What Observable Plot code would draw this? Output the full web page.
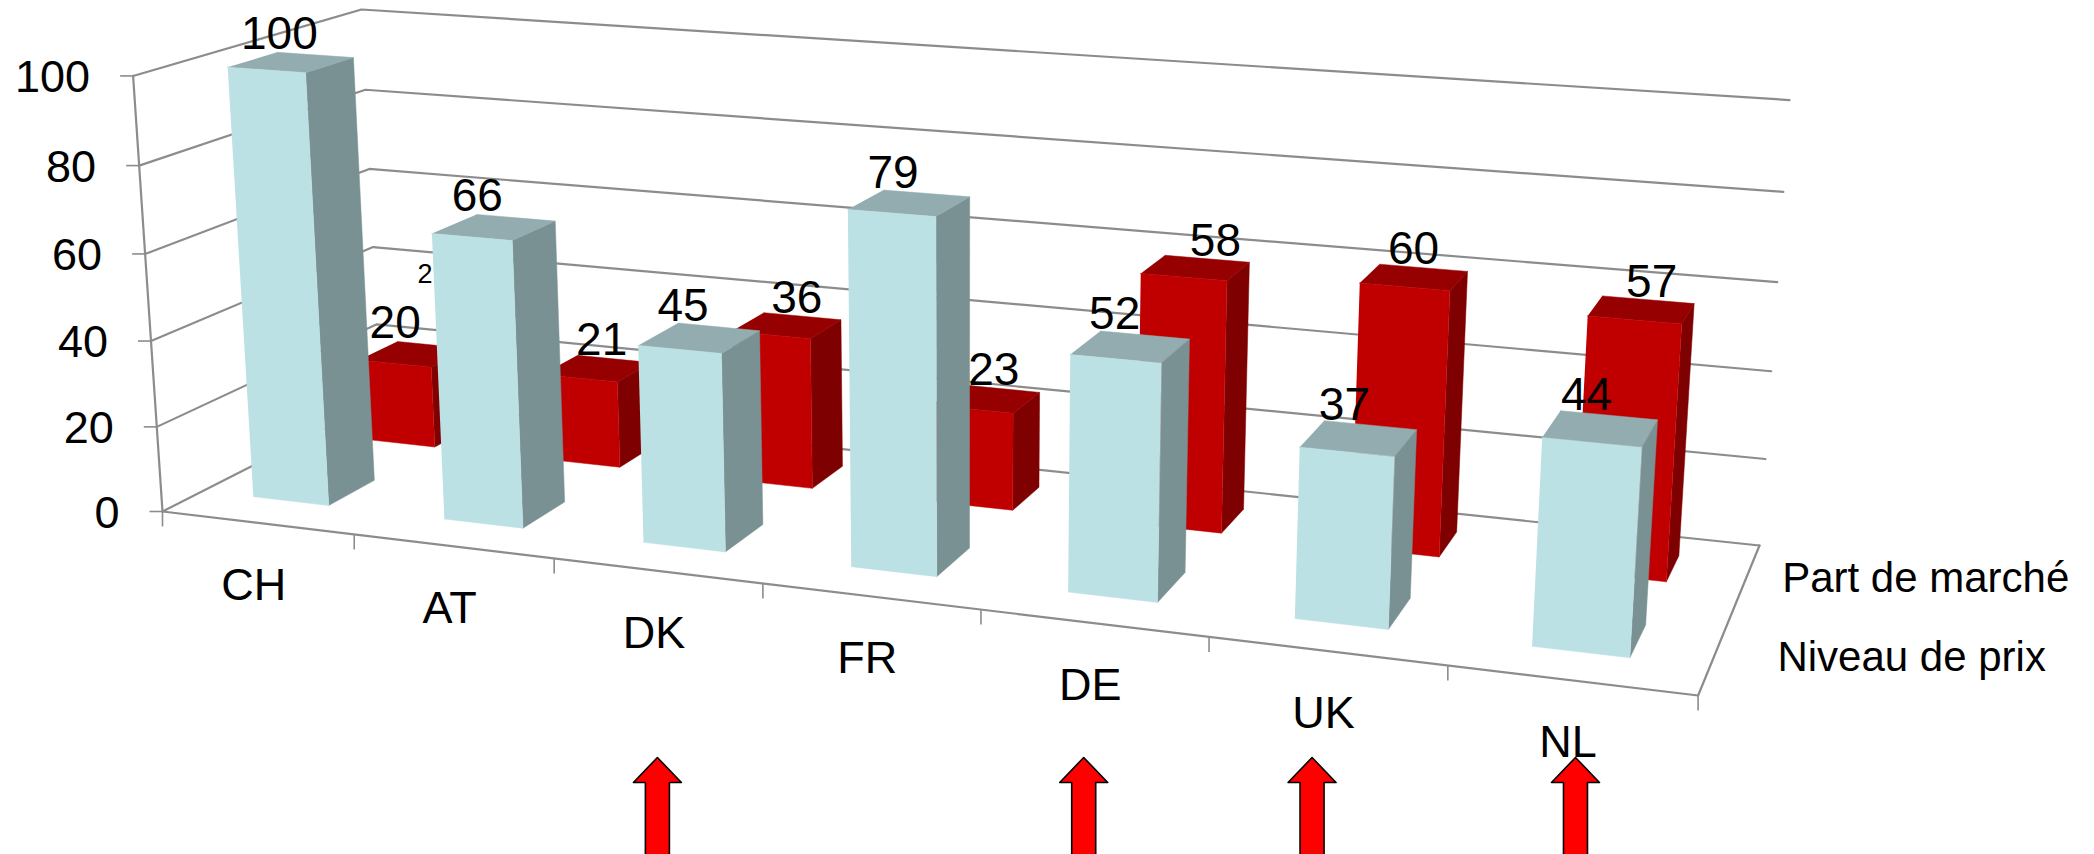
<!DOCTYPE html>
<html><head><meta charset="utf-8">
<script src="https://cdn.jsdelivr.net/npm/d3@7"></script>
<script src="https://cdn.jsdelivr.net/npm/@observablehq/plot@0.6"></script>
<style>html,body{margin:0;padding:0;background:#fff;overflow:hidden}</style>
</head><body><div id="chart"></div>
<script>
// ---- data ----
const categories = ["CH","AT","DK","FR","DE","UK","NL"];
const prixValues = [100,66,45,79,52,37,44];     // Niveau de prix (front row)
const partValues = [20,21,36,23,58,60,57];      // Part de marché (back row)
const yTicks = [0,20,40,60,80,100];
const seriesNames = ["Part de marché","Niveau de prix"];
const arrowCategories = ["DK","DE","UK","NL"];

// ---- 3-D box geometry: a single camera fitted to the frame corners ----
const floorQuad = [[162,511],[1697.6,695],[1759,545],[380,400]];   // front-left, front-right, back-right, back-left
const topFrontLeft = [132.6,76], topBackRight = [1789,99];
const prixRow = [0.17,0.38], partRow = [0.675,0.865], barSpan = [0.27,0.67], spanDrift = 0.0015;
const partLabelShift = [-0.03,0.33,0.43,0.43,0.60,0.39,0.54];
const prixLabelShift = [0.03,0.01,0.06,0.11,0.16,0.22,0.27];
const arrowShift = {DK:0,DE:-10,UK:-15,NL:4};
const legendOffset = [[34,19],[59.5,23.5]];

const [[x0,y0],[x1,y1],[x2,y2],[x3,y3]] = floorQuad;
const dx1=x1-x2, dx2=x3-x2, sx=x0-x1+x2-x3, dy1=y1-y2, dy2=y3-y2, sy=y0-y1+y2-y3;
const den=dx1*dy2-dx2*dy1, g=(sx*dy2-dx2*sy)/den, h=(dx1*sy-sx*dy1)/den;
const a=x1-x0+g*x1, b=x3-x0+h*x3, d_=y1-y0+g*y1, e=y3-y0+h*y3;
const wBR=1+g+h;
const cw=(x2*wBR-x0-(topBackRight[0]*wBR-topFrontLeft[0]))/(topBackRight[0]-topFrontLeft[0]);
const cx=topFrontLeft[0]*(1+cw)-x0, cy=(topFrontLeft[1]*(1+cw)-y0+(topBackRight[1]*(wBR+cw)-y2*wBR))/2;

function project(u,v,val){
  const s=u/categories.length, f=val/100, w=g*s+h*v+1+f*cw;
  return [(a*s+b*v+x0+f*cx)/w,(d_*s+e*v+y0+f*cy)/w];
}
const pt=(u,v,val)=>{const [x,y]=project(u,v,val);return {x,y};};
const barLeft=i=>i+barSpan[0]+spanDrift*i, barRight=i=>i+barSpan[1]+spanDrift*i;

// ---- box faces ----
function barFaces(values,row,cols,name){
  const out=[];
  values.forEach((val,i)=>{
    const u0=barLeft(i),u1=barRight(i),[v0,v1]=row;
    const face=(kind,color,corners)=>corners.forEach(c=>out.push({id:name+i+kind,color,...pt(...c)}));
    face("side",cols.side,[[u1,v0,0],[u1,v1,0],[u1,v1,val],[u1,v0,val]]);
    face("top",cols.top,[[u0,v0,val],[u1,v0,val],[u1,v1,val],[u0,v1,val]]);
    face("front",cols.front,[[u0,v0,0],[u1,v0,0],[u1,v0,val],[u0,v0,val]]);
  });
  return out;
}
const partFaces=barFaces(partValues,partRow,{front:"#c00000",side:"#7f0000",top:"#960000"},"part");
const prixFaces=barFaces(prixValues,prixRow,{front:"#bbe1e4",side:"#7a9193",top:"#92acaf"},"prix");

// ---- frame ----
const n=categories.length;
const frameLines=[];
yTicks.forEach(t=>{
  frameLines.push({id:"w"+t,...pt(0,0,t)},{id:"w"+t,...pt(0,1,t)},{id:"w"+t,...pt(n,1,t)});
});
frameLines.push({id:"axisY",...pt(0,0,0)},{id:"axisY",...pt(0,0,100)});
frameLines.push({id:"floor",...pt(0,0,0)},{id:"floor",...pt(n,0,0)},{id:"floor",...pt(n,1,0)});

const yTickRows=yTicks.map(t=>({t,...pt(0,0,t)}));
const xTickRows=d3.range(n+1).map(i=>pt(i,0,0));
const catRows=categories.map((c,i)=>({c,...pt(i+0.5,0,0)}));

const labelRows=(values,shift,row)=>values.map((val,i)=>{
  const w=barRight(i)-barLeft(i);
  return {val:String(val),...pt(barLeft(i)+shift[i]*w,row[1],val)};
});
const partLabels=labelRows(partValues,partLabelShift,partRow);
const prixLabels=labelRows(prixValues,prixLabelShift,prixRow);
const strayLabel=[{t:"2",...pt(0.29,1,32)}];

const arrowRows=arrowCategories.map(c=>({c,x:pt(categories.indexOf(c)+0.5,0,0).x+arrowShift[c]}));
const arrowShape={draw(ctx,l){
  ctx.moveTo(-12,0);ctx.lineTo(-12,-l+25);ctx.lineTo(-24,-l+25);ctx.lineTo(0,-l);
  ctx.lineTo(24,-l+25);ctx.lineTo(12,-l+25);ctx.lineTo(12,0);ctx.closePath();
}};

const legendRows=seriesNames.map((s,i)=>{
  const p=pt(n,[0.795,0.295][i],0);
  return {s,x:p.x+legendOffset[i][0],y:p.y+legendOffset[i][1]};
});
const FONT="Liberation Sans, Arial, sans-serif";
const GRID="#8c8c8c";

const plot=Plot.plot({
  width:2094,height:854,margin:0,
  x:{domain:[0,2094],range:[0,2094],axis:null},
  y:{domain:[0,854],range:[0,854],axis:null},
  color:{type:"identity"},
  style:{background:"#fff",fontFamily:FONT},
  marks:[
    Plot.line(frameLines,{x:"x",y:"y",z:"id",stroke:GRID,strokeWidth:2.2}),
    Plot.link(yTickRows,{x1:d=>d.x-13,x2:"x",y1:"y",y2:"y",stroke:GRID,strokeWidth:1.6}),
    Plot.link(xTickRows,{x1:"x",x2:"x",y1:"y",y2:d=>d.y+15,stroke:GRID,strokeWidth:1.6}),
    Plot.text(strayLabel,{x:"x",y:"y",text:"t",fontSize:27,fill:"#000",lineAnchor:"bottom"}),
    Plot.line(partFaces,{x:"x",y:"y",z:"id",fill:"color",stroke:"color",strokeWidth:0.5}),
    Plot.line(prixFaces,{x:"x",y:"y",z:"id",fill:"color",stroke:"color",strokeWidth:0.5}),
    Plot.text(partLabels,{x:"x",y:"y",text:"val",dy:-3,fontSize:46,fill:"#000",lineAnchor:"bottom"}),
    Plot.text(prixLabels,{x:"x",y:"y",text:"val",dy:-3,fontSize:46,fill:"#000",lineAnchor:"bottom"}),
    Plot.text(yTickRows,{x:"x",y:"y",text:d=>String(d.t),dx:-43,dy:16,fontSize:45,fill:"#000",textAnchor:"end",lineAnchor:"bottom"}),
    Plot.text(catRows,{x:"x",y:"y",text:"c",dx:-3.5,dy:77,fontSize:45,fill:"#000",lineAnchor:"bottom"}),
    Plot.text(legendRows,{x:"x",y:"y",text:"s",fontSize:42,fill:"#000",textAnchor:"start",lineAnchor:"bottom"}),
    Plot.vector(arrowRows,{x:"x",y:()=>860,length:103,anchor:"start",shape:arrowShape,fill:"#ff0000",stroke:"#000",strokeWidth:1.6})
  ]
});
document.getElementById("chart").append(plot);
</script>
</body></html>
